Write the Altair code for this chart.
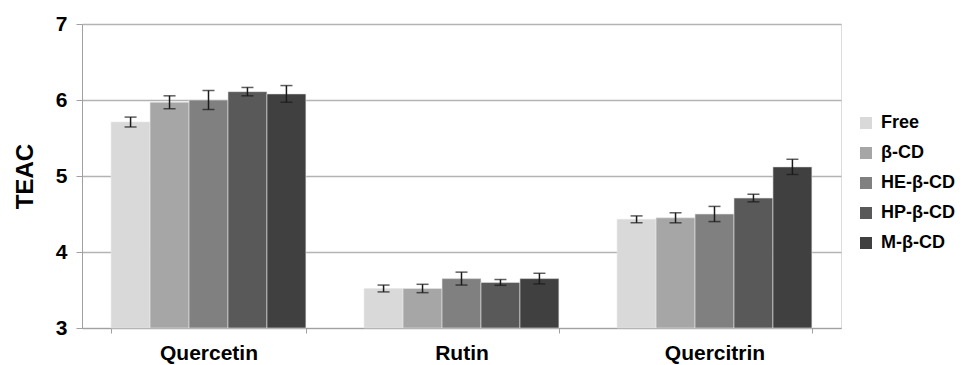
import altair as alt
import pandas as pd

compounds = ["Quercetin", "Rutin", "Quercitrin"]
series = ["Free", "β-CD", "HE-β-CD", "HP-β-CD", "M-β-CD"]
colors = ["#d9d9d9", "#a6a6a6", "#808080", "#595959", "#404040"]

values = {
    "Quercetin": [5.71, 5.97, 6.00, 6.11, 6.08],
    "Rutin": [3.52, 3.52, 3.65, 3.60, 3.65],
    "Quercitrin": [4.43, 4.45, 4.50, 4.71, 5.12],
}
errors = {
    "Quercetin": [0.065, 0.085, 0.125, 0.055, 0.11],
    "Rutin": [0.045, 0.055, 0.085, 0.038, 0.07],
    "Quercitrin": [0.045, 0.066, 0.10, 0.05, 0.10],
}

rows = []
for c in compounds:
    for i, s in enumerate(series):
        v = values[c][i]
        e = errors[c][i]
        rows.append({"compound": c, "series": s, "order": i, "value": v,
                     "lo": v - e, "hi": v + e})
df = pd.DataFrame(rows)

FONT = "Liberation Sans"

x = alt.X("compound:N", sort=compounds,
          scale=alt.Scale(paddingInner=0.23, paddingOuter=0.115),
          axis=alt.Axis(title=None, labelAngle=0, labelFontSize=21, labelFontWeight="bold",
                        labelColor="#000000", labelPadding=9, tickBand="extent",
                        tickSize=5, tickColor="#a0a0a0", domainColor="#a0a0a0",
                        grid=False, labelFont=FONT))
xo = alt.XOffset("series:N", sort=series, scale=alt.Scale(paddingInner=0, paddingOuter=0))
yscale = alt.Scale(domain=[3, 7], zero=False, nice=False)

base = alt.Chart(df)

bars = base.mark_bar(stroke="#e6e6e6", strokeWidth=0.6).encode(
    x=x,
    xOffset=xo,
    y=alt.Y("value:Q", scale=yscale,
            axis=alt.Axis(title="TEAC", values=[3, 4, 5, 6, 7], format="d",
                          labelFontSize=21, labelFontWeight="bold", labelColor="#000000",
                          labelFont=FONT, labelPadding=9,
                          titleFontSize=24, titleFontWeight="bold", titleFont=FONT,
                          titleColor="#000000", titlePadding=18,
                          gridColor="#b3b3b3", gridWidth=1.5, domainColor="#a0a0a0",
                          tickColor="#a0a0a0", tickSize=6)),
    y2=alt.datum(3),
    color=alt.Color("series:N", sort=series,
                    scale=alt.Scale(domain=series, range=colors),
                    legend=alt.Legend(title=None, orient="none", legendX=775, legendY=90,
                                      symbolType="square", symbolSize=144,
                                      symbolStrokeWidth=0, labelFontSize=18,
                                      labelFontWeight="bold", labelFont=FONT,
                                      labelColor="#000000", rowPadding=12,
                                      labelOffset=6)),
)

rules = base.mark_rule(color="#1a1a1a", strokeWidth=1.5).encode(
    x=x, xOffset=xo,
    y=alt.Y("lo:Q", scale=yscale),
    y2="hi:Q",
)
caps_lo = base.mark_tick(color="#1a1a1a", thickness=1.5, size=12).encode(
    x=x, xOffset=xo, y=alt.Y("lo:Q", scale=yscale))
caps_hi = base.mark_tick(color="#1a1a1a", thickness=1.5, size=12).encode(
    x=x, xOffset=xo, y=alt.Y("hi:Q", scale=yscale))

chart = alt.layer(bars, rules, caps_lo, caps_hi).properties(
    width=759, height=304,
    autosize=alt.AutoSizeParams(type="none"),
    padding={"left": 82, "top": 24, "right": 127, "bottom": 37},
).configure_view(stroke=None).configure(font=FONT, background="white")

chart.save("out.html", embed_options={"renderer": "svg", "actions": False})
